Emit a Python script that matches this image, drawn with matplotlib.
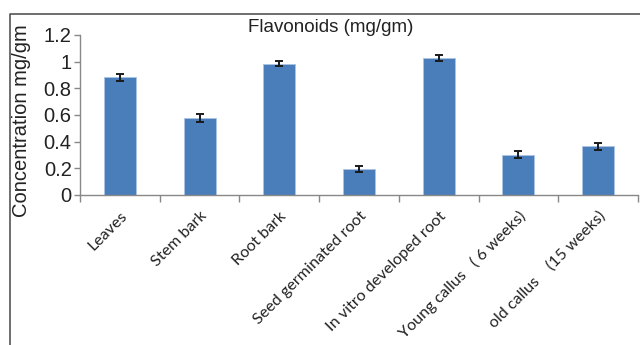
import matplotlib
matplotlib.use("Agg")
import matplotlib.pyplot as plt
import numpy as np
from matplotlib.lines import Line2D

categories = ["Leaves", "Stem bark", "Root bark", "Seed germinated root",
              "In vitro developed root", "Young callus   ( 6 weeks)",
              "old callus    (15 weeks)"]
values = [0.883, 0.578, 0.985, 0.193, 1.025, 0.302, 0.365]
errors = [0.028, 0.028, 0.021, 0.023, 0.022, 0.025, 0.028]
yticks = [0, 0.2, 0.4, 0.6, 0.8, 1.0, 1.2]
ytick_labels = ["0", "0.2", "0.4", "0.6", "0.8", "1", "1.2"]

plt.rcParams["font.family"] = ["Liberation Sans", "DejaVu Sans"]
plt.rcParams["text.color"] = "#222222"

fig = plt.figure(figsize=(6.4, 3.45), dpi=100)
ax = fig.add_axes([80 / 640, 1 - 195 / 345, 558 / 640, 160 / 345])

x = np.arange(len(categories))
ax.bar(x, values, width=0.4, color="#4A7EBB", edgecolor="#A9C4E6", linewidth=0.6,
       yerr=errors, error_kw=dict(ecolor="#1a1a1a", elinewidth=1.4, capsize=3, capthick=1.4))

ax.set_xlim(-0.5, len(categories) - 0.5)
ax.set_ylim(0, 1.2)
ax.set_yticks(yticks)
ax.set_yticklabels(ytick_labels, fontsize=14.5, color="#222222")
ax.set_xticks(x)
ax.set_xticklabels(categories, rotation=45, ha="right", va="top",
                   rotation_mode="anchor", fontsize=11.6, color="#222222",
                   family=["Lato", "DejaVu Sans"])
ax.set_xticks(np.arange(len(categories) + 1) - 0.5, minor=True)
ax.tick_params(axis="x", which="major", length=0, pad=10)
ax.tick_params(axis="x", which="minor", length=5, color="#888888", width=1)
ax.tick_params(axis="y", length=4, color="#888888", width=1, pad=2)

for side in ["top", "right"]:
    ax.spines[side].set_visible(False)
for side in ["left", "bottom"]:
    ax.spines[side].set_color("#888888")
    ax.spines[side].set_linewidth(1)

fig.text(331 / 640, 1 - 27 / 345, "Flavonoids (mg/gm)", ha="center", va="center", fontsize=13.5)
fig.text(22 / 640, 1 - 121 / 345, "Concentration mg/gm", rotation=90,
         ha="center", va="center", fontsize=14.5)

fx, fy = 10 / 640, 1 - 13.5 / 345
fig.add_artist(Line2D([fx, fx, 1], [0, fy, fy], transform=fig.transFigure,
                      color="#555555", linewidth=1.2))

fig.savefig("out.png", dpi=100)
